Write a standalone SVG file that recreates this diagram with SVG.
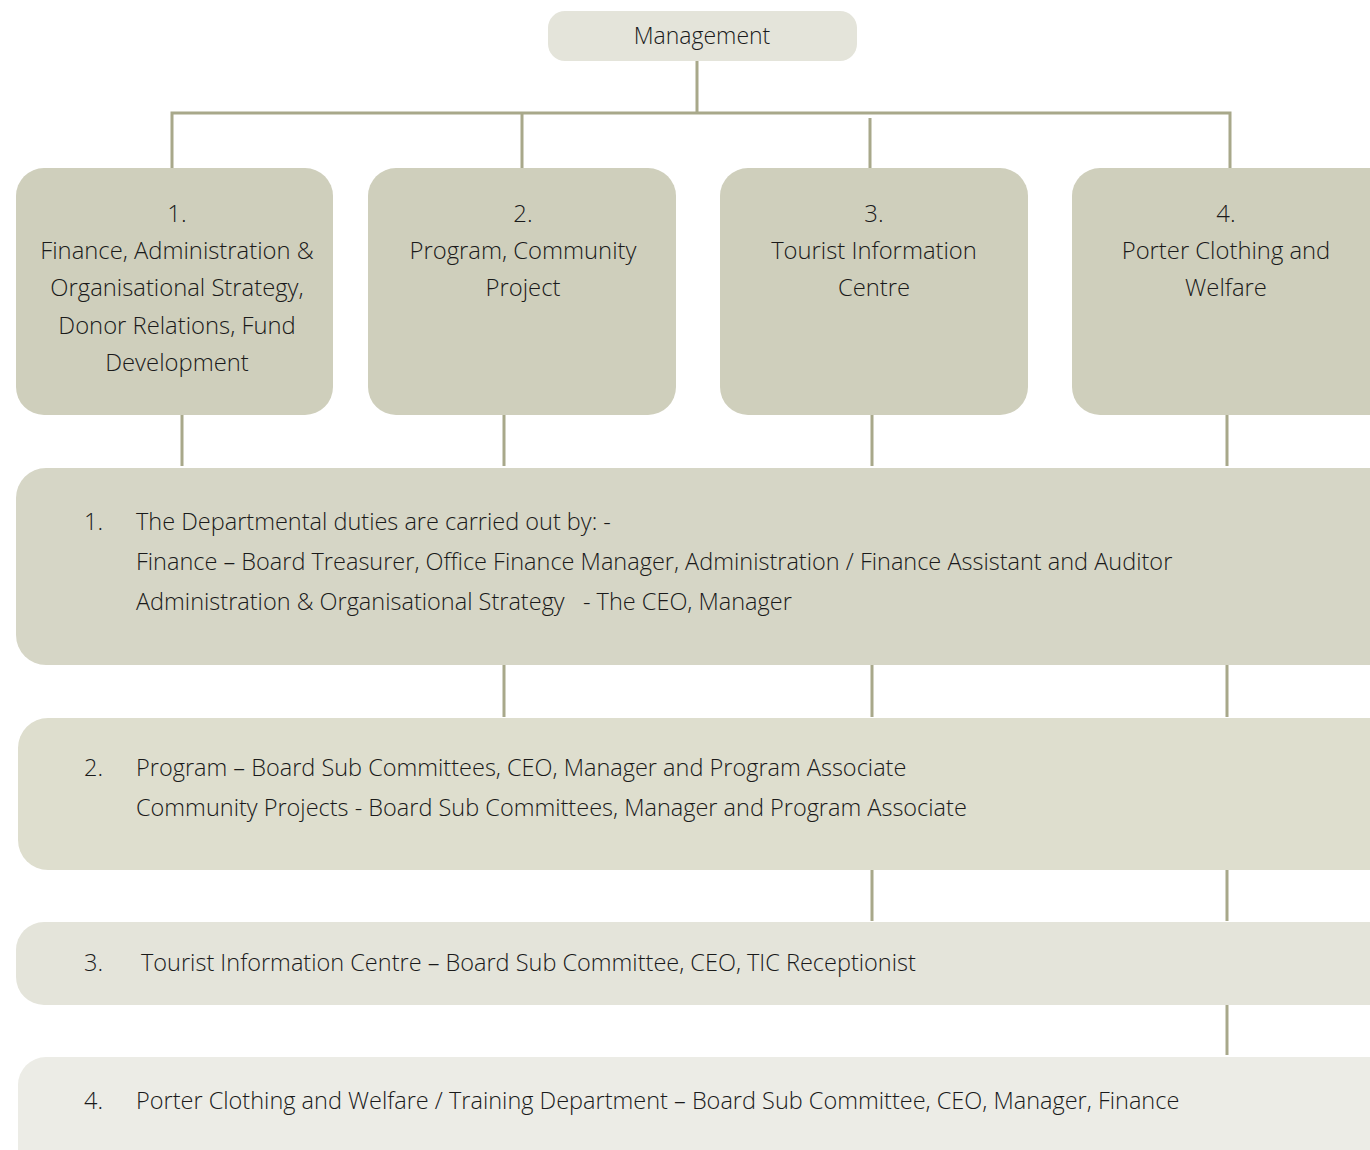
<svg xmlns="http://www.w3.org/2000/svg" width="1370" height="1150" viewBox="0 0 1370 1150">
<style>
text{font-family:"Open Sans","Noto Sans","Liberation Sans",sans-serif;font-weight:300;fill:#1a1a1a;font-size:23.5px;white-space:pre}
.c{text-anchor:middle;font-size:23.8px}
.m{text-anchor:middle;font-size:23px}
.ln{stroke:#a8a88a;stroke-width:3;fill:none}
.l2{fill:#cfcfbc}
</style>
<rect width="1370" height="1150" fill="#ffffff"/>
<g id="connectors">
<path class="ln" d="M697 61V113M172 168V113H1230V168M522 113V168M870 118V168"/>
<path class="ln" d="M182 415V466M504 415V466M872 415V466M1227 415V466"/>
<path class="ln" d="M504 665V717M872 665V717M1227 665V717"/>
<path class="ln" d="M872 870V921M1227 870V921"/>
<path class="ln" d="M1227 1005V1055"/>
</g>
<g id="management">
<rect x="548" y="11" width="309" height="50" rx="17" fill="#e4e4da"/>
<text class="m" x="702" y="44">Management</text>
</g>
<g id="dept1">
<rect class="l2" x="16" y="168" width="317" height="247" rx="28"/>
<text class="c" x="177" y="222">1.</text>
<text class="c" x="177" y="259">Finance, Administration &amp;</text>
<text class="c" x="177" y="296">Organisational Strategy,</text>
<text class="c" x="177" y="334">Donor Relations, Fund</text>
<text class="c" x="177" y="371">Development</text>
</g>
<g id="dept2">
<rect class="l2" x="368" y="168" width="308" height="247" rx="28"/>
<text class="c" x="523" y="222">2.</text>
<text class="c" x="523" y="259">Program, Community</text>
<text class="c" x="523" y="296">Project</text>
</g>
<g id="dept3">
<rect class="l2" x="720" y="168" width="308" height="247" rx="28"/>
<text class="c" x="874" y="222">3.</text>
<text class="c" x="874" y="259">Tourist Information</text>
<text class="c" x="874" y="296">Centre</text>
</g>
<g id="dept4">
<rect class="l2" x="1072" y="168" width="330" height="247" rx="28"/>
<text class="c" x="1226" y="222">4.</text>
<text class="c" x="1226" y="259">Porter Clothing and</text>
<text class="c" x="1226" y="296">Welfare</text>
</g>
<g id="duties1">
<rect x="16" y="468" width="1390" height="197" rx="30" fill="#d6d6c6"/>
<text x="84" y="530">1.</text>
<text x="136" y="530">The Departmental duties are carried out by: -</text>
<text x="136" y="570">Finance – Board Treasurer, Office Finance Manager, Administration / Finance Assistant and Auditor</text>
<text x="136" y="610">Administration &amp; Organisational Strategy   - The CEO, Manager</text>
</g>
<g id="duties2">
<rect x="18" y="718" width="1390" height="152" rx="30" fill="#dedece"/>
<text x="84" y="776">2.</text>
<text x="136" y="776">Program – Board Sub Committees, CEO, Manager and Program Associate</text>
<text x="136" y="816">Community Projects - Board Sub Committees, Manager and Program Associate</text>
</g>
<g id="duties3">
<rect x="16" y="922" width="1390" height="83" rx="28" fill="#e4e4da"/>
<text x="84" y="971">3.</text>
<text x="141" y="971">Tourist Information Centre – Board Sub Committee, CEO, TIC Receptionist</text>
</g>
<g id="duties4">
<rect x="18" y="1057" width="1390" height="120" rx="28" fill="#ececE6"/>
<text x="84" y="1109">4.</text>
<text x="136" y="1109">Porter Clothing and Welfare / Training Department – Board Sub Committee, CEO, Manager, Finance</text>
</g>
</svg>
